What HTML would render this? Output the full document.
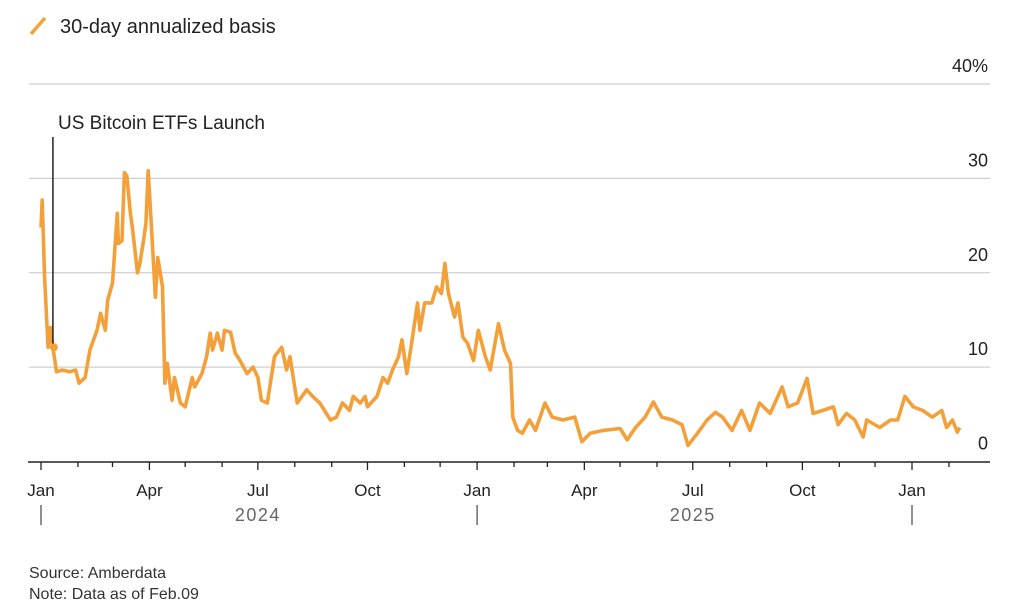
<!DOCTYPE html>
<html><head><meta charset="utf-8"><style>
html,body{margin:0;padding:0;background:#fff;}
body{width:1024px;height:607px;overflow:hidden;font-family:"Liberation Sans",Arial,sans-serif;}
</style></head><body>
<svg id="chart" width="1024" height="607" viewBox="0 0 1024 607" xmlns="http://www.w3.org/2000/svg" font-family="Liberation Sans, Arial, sans-serif">
<g>
<line x1="31" y1="34" x2="45" y2="18" stroke="#f2a23a" stroke-width="3.5"/>
<text x="60" y="33" font-size="20" fill="#222">30-day annualized basis</text>
</g>
<g id="grid"></g>
<g id="yticks"></g>
<g id="xaxis"></g>
<path id="series" fill="none" stroke="#f4a03a" stroke-width="3.6" stroke-linejoin="round"/>
<g>
<line id="annLine" x1="53" y1="137" x2="53" y2="345" stroke="#222" stroke-width="1.5"/>
<circle id="annDot" cx="55" cy="345" r="4" fill="#f4a03a"/>
<text x="58" y="129" font-size="19" fill="#222">US Bitcoin ETFs Launch</text>
</g>
<text x="29" y="578" font-size="16" fill="#333">Source: Amberdata</text>
<text x="29" y="599" font-size="16" fill="#333">Note: Data as of Feb.09</text>
</svg>
<script>
const days=[0,1,3,6,8,10,13,18,24,29,32,37,41,47,50,54,56,60,64,65,68,70,72,75,77,81,83,86,88,90,93,96,98,102,104,106,110,112,117,121,127,129,135,139,142,144,148,152,154,159,163,167,173,178,182,185,190,192,196,202,206,209,215,223,228,234,243,248,253,259,262,268,272,274,282,287,291,295,300,303,307,311,316,318,322,328,332,336,339,342,347,350,354,358,363,367,373,377,384,389,394,396,400,404,410,415,423,429,438,448,454,461,472,486,492,499,507,514,521,530,538,543,551,559,566,572,580,588,595,603,612,622,627,635,643,648,656,665,669,676,683,690,693,704,713,719,725,732,740,748,756,760,765,769,771];
const values=[24.8,27.7,19.5,12.1,14.2,12.1,9.5,9.7,9.5,9.7,8.3,8.9,11.8,13.9,15.7,13.9,17.1,18.9,26.3,23.1,23.4,30.6,30.3,26.3,24.5,20.0,21.0,23.4,25.2,30.8,24.2,17.4,21.6,18.5,8.3,10.4,6.5,8.9,6.2,5.8,8.9,7.9,9.3,11.1,13.6,11.8,13.6,11.8,13.9,13.7,11.5,10.7,9.3,10.0,8.9,6.5,6.2,7.9,11.1,12.1,9.7,11.1,6.2,7.6,6.9,6.2,4.4,4.7,6.2,5.4,6.9,6.2,6.9,5.8,6.9,8.9,8.3,9.7,11.1,12.9,9.3,12.5,16.8,13.9,16.8,16.8,18.5,17.8,21.0,17.8,15.3,16.8,13.2,12.5,10.7,13.9,11.1,9.7,14.6,11.8,10.4,4.7,3.3,3.0,4.4,3.3,6.2,4.7,4.4,4.7,2.1,3.0,3.3,3.5,2.3,3.6,4.7,6.3,4.7,4.4,3.9,1.7,3.0,4.4,5.2,4.7,3.3,5.4,3.3,6.2,5.1,7.9,5.8,6.2,8.8,5.1,5.4,5.8,3.9,5.1,4.4,2.6,4.4,3.6,4.4,4.4,6.9,5.8,5.4,4.7,5.4,3.6,4.4,3.1,3.6];
const yTicks=[0,10,20,30,40];
const yTickLabels=["0","10","20","30","40%"];
const monthLabels=["Jan","Apr","Jul","Oct","Jan","Apr","Jul","Oct","Jan"];
const years=["2024","2025"];
const launchDay=10;

const NS="http://www.w3.org/2000/svg";
const X0=41,X1=912,D1=731,Y0=461.5,Y40=84;
const xs=d=>X0+d*(X1-X0)/D1;
const ys=v=>Y0-v*(Y0-Y40)/40;
function mk(tag,attrs,parent){const e=document.createElementNS(NS,tag);for(const k in attrs)e.setAttribute(k,attrs[k]);parent.appendChild(e);return e;}
const grid=document.getElementById('grid'),yt=document.getElementById('yticks'),xa=document.getElementById('xaxis');
yTicks.forEach((t,i)=>{
 if(t>0){const g=mk('line',{x1:29,x2:990,y1:ys(t),y2:ys(t),stroke:'#cfcfcf','stroke-width':1.3},grid);
 
 }
 const tx=mk('text',{x:988,y:ys(t)-12,'font-size':18,fill:'#222','text-anchor':'end'},yt);
 tx.textContent=yTickLabels[i];
 
 
});
const ax=mk('line',{x1:28,x2:990,y1:462,y2:462,stroke:'#222','stroke-width':1.5},xa);


for(let m=0;m<=25;m++){
 const y=2024+Math.floor(m/12),mo=m%12;
 const d=(Date.UTC(y,mo,1)-Date.UTC(2024,0,1))/864e5;
 const x=xs(d),major=mo%3===0;
 const tk=mk('line',{x1:x,x2:x,y1:462,y2:major?470:467,stroke:'#222','stroke-width':1.3},xa);
 
 
 if(major){const lt=mk('text',{x:x,y:496,'font-size':17,fill:'#222','text-anchor':'middle'},xa);
  lt.textContent=monthLabels[m/3];
  
  }
 if(mo===0){const b=mk('line',{x1:x,x2:x,y1:505,y2:525,stroke:'#555','stroke-width':1.3},xa);
  
  }
}
years.forEach((yr,i)=>{
 const d=(Date.UTC(+yr,6,1)-Date.UTC(2024,0,1))/864e5;
 const t=mk('text',{x:xs(d),y:521,'font-size':18,fill:'#666','text-anchor':'middle','letter-spacing':'1.5'},xa);
 t.textContent=yr;
 
 
});
let p='';days.forEach((d,i)=>{p+=(i?'L':'M')+xs(d).toFixed(1)+','+ys(values[i]).toFixed(1);});
document.getElementById('series').setAttribute('d',p);
const li=days.indexOf(launchDay);
const lx=xs(launchDay),ly=ys(values[li]);
document.getElementById('annLine').setAttribute('x1',lx);
document.getElementById('annLine').setAttribute('x2',lx);
document.getElementById('annLine').setAttribute('y2',ly);
document.getElementById('annDot').setAttribute('cx',lx+1);
document.getElementById('annDot').setAttribute('cy',ly);
</script>
</body></html>
